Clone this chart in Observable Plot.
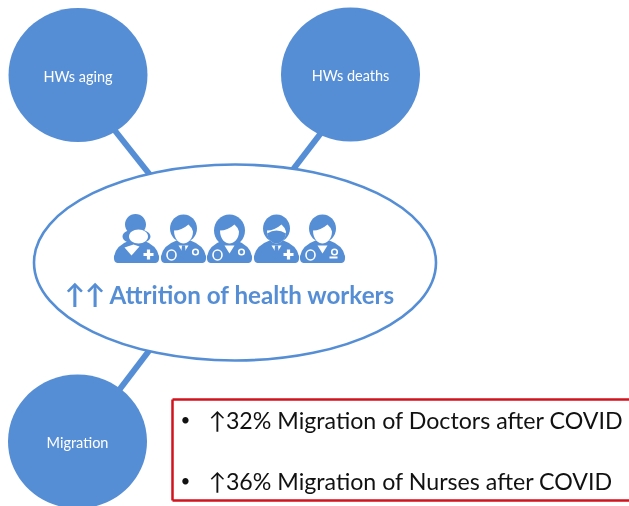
<!DOCTYPE html>
<html><head><meta charset="utf-8">
<script src="https://cdn.jsdelivr.net/npm/d3@7"></script>
<script src="https://cdn.jsdelivr.net/npm/@observablehq/plot@0.6"></script>
<style>
html,body{margin:0;padding:0;background:#fff;}
svg{display:block;filter:blur(0.35px);}
</style></head><body><div id="c"></div>
<script>
const BLUE="#558ed5";
const nodeLabels=["HWs aging","HWs deaths","Migration"];
const nodeX=[77.5,350,77];
const nodeY=[74.5,74,441];
const nodeLabelY=[81,80,447];
const linkX1=[108,327,116];
const linkY1=[122,124,393];
const linkX2=[150,291,151];
const linkY2=[175,171,347];
const hubX=[234.5];
const hubY=[262];
const staffX=[136,183,229,276,322];
const staffY=227;
const titleArrows="↑↑";
const title="Attrition of health workers";
const titleArrowX=[64];
const titleX=[109];
const titleY=[303];
const bullets=["↑32% Migration of Doctors after COVID","↑36% Migration of Nurses after COVID"];
const bulletY=[428,489];
const textX=[208,208];
const dotX=[185,185];
const font="Lato, 'Open Sans', sans-serif";

const nodes=nodeLabels.map((label,i)=>({label,x:nodeX[i],y:nodeY[i],ly:nodeLabelY[i]}));
const links=linkX1.map((d,i)=>({x1:d,y1:linkY1[i],x2:linkX2[i],y2:linkY2[i]}));

function ell(c,cx,cy,rx,ry){
  const k=0.5523;
  c.moveTo(cx-rx,cy);
  c.bezierCurveTo(cx-rx,cy-k*ry,cx-k*rx,cy-ry,cx,cy-ry);
  c.bezierCurveTo(cx+k*rx,cy-ry,cx+rx,cy-k*ry,cx+rx,cy);
  c.bezierCurveTo(cx+rx,cy+k*ry,cx+k*rx,cy+ry,cx,cy+ry);
  c.bezierCurveTo(cx-k*rx,cy+ry,cx-rx,cy+k*ry,cx-rx,cy);
  c.closePath();
}
const sym=f=>({draw:f});
const ovalNode=sym(c=>ell(c,0,0,69.5,67));
const hubOval=sym(c=>ell(c,0,0,201,98));
const body=sym(c=>{c.moveTo(-19,35.5);c.quadraticCurveTo(-23,35.5,-22.5,29);c.quadraticCurveTo(-21,18,-7,13);c.lineTo(7,13);c.quadraticCurveTo(21,18,22.5,29);c.quadraticCurveTo(23,35.5,19,35.5);c.closePath();});
const head=sym(c=>ell(c,0,1,13.5,14));
const bigHair=sym(c=>{ell(c,0,3,15.5,16);});
const sideHair=sym(c=>{ell(c,-1,-3,10.5,10.5);ell(c,0,9,14,7.5);});
const face=sym(c=>{c.moveTo(-9.5,3);c.quadraticCurveTo(-2,3,5,-3);c.quadraticCurveTo(8.5,0,9.5,4);c.bezierCurveTo(9.5,12,4,16,0,16);c.bezierCurveTo(-4,16,-9.5,12,-9.5,3);c.closePath();});
const mask=sym(c=>ell(c,2,9,9.5,7));
const neckV=sym(c=>{c.moveTo(-5,18);c.lineTo(5,18);c.lineTo(0,26);c.closePath();});
const collar=sym(c=>{c.moveTo(-12,20);c.lineTo(-3,17);c.lineTo(3,19);c.lineTo(-5,28);c.closePath();});
const stethL=sym(c=>{ell(c,-12,27.5,4.5,5);});
const stethR=sym(c=>{ell(c,12,24.5,2.8,2.8);});
const tie=sym(c=>{c.moveTo(-1.5,18);c.lineTo(1.5,18);c.lineTo(2.5,28);c.lineTo(0,31);c.lineTo(-2.5,28);c.closePath();});
const plusAt=(px,py)=>sym(c=>{const a=1.6,b=5;c.moveTo(px-a,py-b);c.lineTo(px+a,py-b);c.lineTo(px+a,py-a);c.lineTo(px+b,py-a);c.lineTo(px+b,py+a);c.lineTo(px+a,py+a);c.lineTo(px+a,py+b);c.lineTo(px-a,py+b);c.lineTo(px-a,py+a);c.lineTo(px-b,py+a);c.lineTo(px-b,py-a);c.lineTo(px-a,py-a);c.closePath();});
const dash=sym(c=>{c.moveTo(7,29);c.lineTo(15,29);c.lineTo(15,31);c.lineTo(7,31);c.closePath();});
const maskDark=sym(c=>{c.moveTo(-9.5,6);c.quadraticCurveTo(0,0,9.5,6);c.quadraticCurveTo(8,15,0,16);c.quadraticCurveTo(-8,15,-9.5,6);c.closePath();});

const W="#fff";
const layers=[
  [[sideHair,BLUE],[body,BLUE],[mask,W],[collar,W],[plusAt(12,27),W]],
  [[body,BLUE],[head,BLUE],[face,W],[neckV,W],[tie,BLUE],[stethL,null],[stethR,null]],
  [[body,BLUE],[bigHair,BLUE],[face,W],[neckV,W],[stethL,null],[stethR,null]],
  [[body,BLUE],[head,BLUE],[face,W],[maskDark,BLUE],[neckV,W],[tie,BLUE],[plusAt(12,27),W]],
  [[body,BLUE],[head,BLUE],[face,W],[neckV,W],[stethL,null],[stethR,null],[dash,W]]
];
const staffMarks=[];
layers.forEach((ls,i)=>ls.forEach(([s,fill])=>{
  const d=[{x:staffX[i],y:staffY}];
  staffMarks.push(Plot.dot(d,fill?{x:"x",y:"y",r:5,symbol:s,fill,stroke:"none"}
    :{x:"x",y:"y",r:5,symbol:s,fill:"none",stroke:W,strokeWidth:1.6}));
}));

const plot=Plot.plot({
  width:629,height:506,margin:0,
  x:{domain:[0,629],range:[0,629],axis:null},
  y:{domain:[0,506],range:[0,506],axis:null},
  style:{background:"#fff"},
  marks:[
    Plot.link(links,{x1:"x1",y1:"y1",x2:"x2",y2:"y2",stroke:BLUE,strokeWidth:6}),
    Plot.dot(nodes,{x:"x",y:"y",r:5,symbol:ovalNode,fill:BLUE,stroke:"none"}),
    Plot.dot([{x:hubX[0],y:hubY[0]}],{x:"x",y:"y",r:5,symbol:hubOval,fill:"#fff",stroke:BLUE,strokeWidth:2.6}),
    ...staffMarks,
    Plot.text(nodes,{x:"x",y:"ly",text:"label",fill:"#fff",fontSize:14.5,fontFamily:font,textAnchor:"middle",lineAnchor:"bottom"}),
    Plot.text([titleArrows],{x:titleArrowX,y:titleY,text:d=>d,fill:BLUE,fontSize:27,fontWeight:"bold",fontFamily:font,textAnchor:"start",lineAnchor:"bottom"}),
    Plot.text([title],{x:titleX,y:titleY,text:d=>d,fill:BLUE,fontSize:24.2,fontWeight:"bold",fontFamily:font,textAnchor:"start",lineAnchor:"bottom"}),
    Plot.link([0,1,2],{x1:[172,172,172],x2:[629,629,172],y1:[399,500,399],y2:[399,500,500],stroke:"#d2121c",strokeWidth:2.5}),
    Plot.text(bullets,{x:textX,y:bulletY,text:d=>d,fill:"#111",fontSize:23.2,fontFamily:font,textAnchor:"start",lineAnchor:"bottom"}),
    Plot.text(bullets,{x:dotX,y:bulletY,text:()=>"•",fill:"#111",fontSize:17,dy:-3,fontFamily:font,textAnchor:"middle",lineAnchor:"bottom"})
  ]
});
document.getElementById("c").append(plot);
</script></body></html>
